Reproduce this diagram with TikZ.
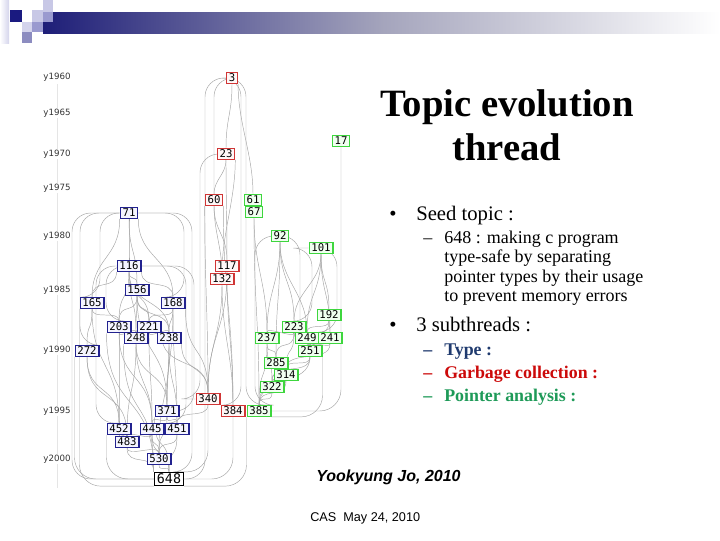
\documentclass[tikz,border=0pt]{standalone}
\usepackage{fontspec}
\setmainfont{Liberation Serif}
\newfontfamily\arialf{Liberation Sans}
\newfontfamily\monof{DejaVu Sans Mono}
\newfontfamily\dejaf{DejaVu Sans}
\usetikzlibrary{calc,backgrounds}
\definecolor{barnavy}{HTML}{1E1E78}
\definecolor{barmid}{HTML}{A4A4BC}
\definecolor{sqnavy}{HTML}{1A1A80}
\definecolor{sqlight}{HTML}{C8C8E6}
\definecolor{sqmed}{HTML}{9A9ACF}
\definecolor{sqpale}{HTML}{D4D4EC}
\definecolor{sqmed2}{HTML}{8C8CC0}
\definecolor{redb}{HTML}{D03535}
\definecolor{blueb}{HTML}{22228F}
\definecolor{greenb}{HTML}{3ED63E}
\definecolor{typec}{HTML}{1F3A6E}
\definecolor{gcc}{HTML}{CC0A0A}
\definecolor{ptrc}{HTML}{1E9A58}
\begin{document}
\begin{tikzpicture}[x=0.75pt,y=-0.75pt,
  tnode/.style={draw,line width=0.9pt,font=\monof\fontsize{8}{8}\selectfont,inner xsep=1.7pt,inner ysep=1pt,text height=5.9pt,text depth=0pt},
  rn/.style={tnode,draw=redb,fill=red!3},
  bn/.style={tnode,draw=blueb,fill=blue!4},
  gn/.style={tnode,draw=greenb,fill=green!6},
  kn/.style={draw=black,line width=0.8pt,fill=white,font=\monof\fontsize{10}{10}\selectfont,inner xsep=2pt,inner ysep=1.3pt,text height=7.3pt,text depth=0pt},
  yr/.style={font=\dejaf\fontsize{6.5}{6.5}\selectfont,text=black!80,inner sep=0.5pt},
  edge/.style={draw=black!35,line width=0.35pt},
  title/.style={font=\fontsize{29}{29}\selectfont\bfseries,anchor=base,inner sep=0pt},
  bul/.style={font=\fontsize{15.5}{15.5}\selectfont,anchor=base west,inner sep=0pt},
  sub/.style={font=\fontsize{13.5}{13.5}\selectfont,anchor=base west,inner sep=0pt},
  subb/.style={font=\fontsize{13.4}{13.4}\selectfont\bfseries,anchor=base west,inner sep=0pt}]
\useasboundingbox (0,0) rectangle (720,540);

% header decoration
\shade[left color=white,right color=sqpale] (0,0) rectangle (9,43);
\shade[left color=barnavy,right color=barmid] (43,12) rectangle (382,33);
\shade[left color=barmid,right color=white] (381,12) rectangle (720,33);
\fill[sqnavy] (10,10) rectangle (22,22);
\fill[sqlight] (32,10) rectangle (43,22);
\fill[sqlight] (43,0) rectangle (53,12);
\fill[sqmed] (43,12) rectangle (53,22);
\fill[sqpale] (22,22) rectangle (32,32);
\fill[sqmed] (32,22) rectangle (43,32);
\fill[sqmed2] (22,32) rectangle (32,43);

% year axis
\draw[black!10,line width=0.4pt] (57,84) -- (57,488);
\foreach \yy/\py in {1960/77,1965/113,1970/154,1975/188,1980/236,1985/290,1990/350,1995/411,2000/459}
  \node[yr,fill=white] (y\yy) at (57,\py) {y\yy};

% topic nodes
\node[rn] (n3) at (232,78) {3};
\node[gn] (n17) at (341,141) {17};
\node[rn] (n23) at (226,154) {23};
\node[rn] (n60) at (214,200) {60};
\node[gn] (n61) at (253,200) {61};
\node[gn] (n67) at (254,212) {67};
\node[bn] (n71) at (129,213) {71};
\node[gn] (n92) at (280,236) {92};
\node[gn] (n101) at (321,248) {101};
\node[bn] (n116) at (129,266) {116};
\node[rn] (n117) at (227,266) {117};
\node[rn] (n132) at (222,279) {132};
\node[bn] (n156) at (137,290) {156};
\node[bn] (n165) at (92,303) {165};
\node[bn] (n168) at (173,303) {168};
\node[gn] (n192) at (329,315) {192};
\node[bn] (n203) at (119,327) {203};
\node[bn] (n221) at (149,327) {221};
\node[gn] (n223) at (294,327) {223};
\node[gn] (n237) at (267,338) {237};
\node[bn] (n248) at (136,338) {248};
\node[bn] (n238) at (169,338) {238};
\node[gn] (n249) at (307,338) {249};
\node[gn] (n241) at (330,338) {241};
\node[gn] (n251) at (310,351) {251};
\node[bn] (n272) at (87,351) {272};
\node[gn] (n285) at (276,363) {285};
\node[gn] (n314) at (286,375) {314};
\node[gn] (n322) at (272,387) {322};
\node[rn] (n340) at (208,399) {340};
\node[bn] (n371) at (167,411) {371};
\node[rn] (n384) at (233,411) {384};
\node[gn] (n385) at (259,411) {385};
\node[bn] (n452) at (119,429) {452};
\node[bn] (n445) at (152,429) {445};
\node[bn] (n451) at (177,429) {451};
\node[bn] (n483) at (127,442) {483};
\node[bn] (n530) at (159,459) {530};
\node[kn] (n648) at (169,479) {648};

\begin{scope}[on background layer]
\foreach \a/\b/\c in {
 n3.south/n23.north/30, n3.south east/n61.north/40,
 n23.south/n60.north/15, n23.south/n117.north/40, n23.south east/n132.north/40,
 n60.south/n117.north/25, n60.south/n132.north/25, n60.south west/n340.north/80, n60.south east/n384.north/90,
 n117.south/n384.north/60, n117.south/n340.north/60, n132.south/n340.north/50, n132.south/n384.north/50,
 n67.south/n237.north/50, n67.south/n385.north/90,
 n92.south/n223.north/40, n92.south/n237.north/40, n92.south/n285.north/60, n92.south/n249.north/40,
 n101.south/n192.north/30, n101.south/n223.north/30, n101.south/n249.north/40, n101.south/n241.north/40,
 n192.south/n249.north/10, n192.south/n241.north/10, n192.south/n251.north/20,
 n223.south/n237.north/6, n223.south/n249.north/6, n223.south/n251.north/12, n223.south/n285.north/20, n223.south/n314.north/25,
 n237.south/n285.north/12, n237.south/n322.north/25, n237.south/n385.north/40,
 n249.south/n251.north/5, n241.south/n251.north/5, n241.south/n314.north/20,
 n251.south/n314.north/12, n251.south/n322.north/20, n251.south/n385.north/30,
 n285.south/n314.north/6, n285.south/n322.north/12, n285.south/n385.north/25,
 n314.south/n322.north/6, n314.south/n385.north/20, n322.south/n385.north/12,
 n71.south/n116.north/25, n71.south/n156.north/35, n71.south west/n165.north/40, n71.south east/n168.north/40,
 n116.south/n156.north/10, n116.south/n203.north/30, n116.south/n221.north/30, n116.south/n248.north/35, n116.south/n238.north/35,
 n116.south west/n165.north/20, n116.south east/n168.north/20,
 n156.south/n203.north/20, n156.south/n221.north/20, n156.south/n248.north/25, n156.south/n238.north/25, n156.south/n371.north/60,
 n165.south/n203.north/12, n165.south/n272.north/25, n165.south/n452.north/60,
 n168.south/n221.north/12, n168.south/n238.north/15, n168.south/n371.north/50, n168.south/n451.north/60, n168.south east/n340.north/50,
 n203.south/n248.north/6, n203.south/n452.north/50, n203.south/n445.north/50,
 n221.south/n248.north/6, n221.south/n238.north/6, n221.south/n445.north/50, n221.south east/n340.north/40,
 n248.south/n371.north/35, n248.south/n445.north/40, n248.south/n483.north/50,
 n238.south/n371.north/35, n238.south/n451.north/45, n238.south/n530.north/60, n238.south east/n340.north/30,
 n272.south/n452.north/40, n272.south/n483.north/50,
 n371.south/n445.north/10, n371.south/n451.north/10, n371.south/n530.north/25, n340.south/n451.north/15,
 n452.south/n483.north/5, n445.south/n483.north/6, n445.south/n530.north/15, n451.south/n530.north/15,
 n483.south/n530.north/10, n530.south/n648.north/8, n451.south/n648.north/25, n483.south/n648.north west/20,
 n445.south/n648.north/25, n203.south west/n648.north west/80, n248.south west/n648.north west/80, n371.south west/n648.north/40}
 {\draw[edge] (\a) .. controls +(0,\c) and +(0,-\c) .. (\b);}

\foreach \a/\x/\b in {
 n3.west/205/n648.east, n3.west/214/n60.north, n3.east/241/n384.north, n3.east/246/n385.north,
 n23.west/200/n340.west,
 n71.west/80/n272.north, n71.west/72/n648.west, n71.west/100/n165.north, n71.east/192/n648.north east, n71.east/184/n168.north,
 n116.west/96/n452.north, n116.east/186/n451.north, n116.west/106/n203.north, n116.east/194/n371.east,
 n92.west/255/n385.north, n92.east/300/n251.north, n101.east/337/n241.north, n101.west/312/n223.north}
 {\coordinate (cx) at (\x,0);
  \draw[edge,rounded corners=14pt] (\a) -| (cx |- \b) -- (\b);}

\foreach \a/\b in {n17.south/n385.east, n384.south/n648.east, n385.south west/n648.south east,
 n340.south/n648.north east, n272.south west/n648.west, n165.south west/n648.south west,
 n251.south east/n385.south east, n452.south west/n648.west}
 {\draw[edge,rounded corners=16pt] (\a) |- (\b);}

\draw[black!60,line width=0.5pt,densely dotted] (n61.south) -- (n67.north);
\end{scope}

% title
\node[title] (t1) at (507,116) {Topic evolution};
\node[title] (t2) at (507,160) {thread};

% bullets
\node[bul] (b1) at (389,220) {•};
\node[bul] (b1t) at (416,220) {Seed topic :};
\node[sub] (d1) at (423,243) {–};
\node[sub] (s1) at (444,243) {648 : making c program};
\node[sub] (s2) at (444,262.5) {type-safe by separating};
\node[sub] (s3) at (444,282) {pointer types by their usage};
\node[sub] (s4) at (444,301.5) {to prevent memory errors};
\node[bul] (b2) at (389,331) {•};
\node[bul] (b2t) at (416,331) {3 subthreads :};
\node[subb,text=typec] (d2) at (423,355) {–};
\node[subb,text=typec] (s5) at (444,355) {Type :};
\node[subb,text=gcc] (d3) at (423,378) {–};
\node[subb,text=gcc] (s6) at (444,378) {Garbage collection :};
\node[subb,text=ptrc] (d4) at (423,401) {–};
\node[subb,text=ptrc] (s7) at (444,401) {Pointer analysis :};

% footer
\node[font=\arialf\fontsize{12}{12}\selectfont\bfseries\itshape,anchor=base west,inner sep=0pt] (auth) at (316,481) {Yookyung Jo, 2010};
\node[font=\arialf\fontsize{9.5}{9.5}\selectfont,anchor=base west,inner sep=0pt] (foot) at (310,521) {CAS~ May 24, 2010};
\end{tikzpicture}
\end{document}
